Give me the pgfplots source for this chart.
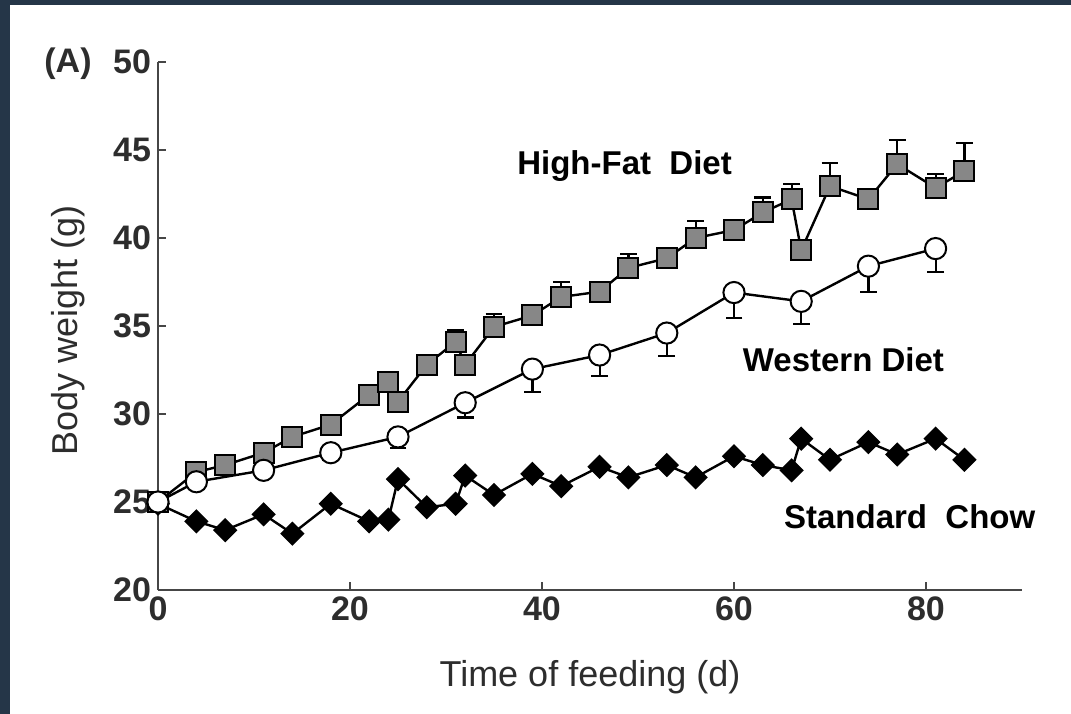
\documentclass[border=0pt]{standalone}
\usepackage{fontspec}
\setmainfont{Liberation Sans}
\usepackage{pgfplots}
\pgfplotsset{compat=1.18}
\usepackage{pgfplotstable}
\definecolor{frame}{RGB}{37,54,72}
\definecolor{sqfill}{RGB}{135,135,135}
\definecolor{txtgray}{RGB}{45,45,45}
\definecolor{axgray}{RGB}{70,70,70}

\pgfplotstableread{
x y
0 24.9
4 23.9
7 23.4
11 24.3
14 23.2
18 24.9
22 23.9
24 24.0
25 26.3
28 24.7
31 24.9
32 26.5
35 25.4
39 26.6
42 25.9
46 27.0
49 26.4
53 27.1
56 26.4
60 27.6
63 27.1
66 26.8
67 28.6
70 27.4
74 28.4
77 27.7
81 28.6
84 27.4
}\chow

\pgfplotstableread{
x y e
0 25.0 0
4 26.7 0
7 27.1 0
11 27.8 0
14 28.7 0
18 29.4 0
22 31.1 0
24 31.8 0.4
25 30.7 0
28 32.8 0
31 34.1 0.65
32 32.8 0
35 34.95 0.75
39 35.6 0
42 36.65 0.85
46 36.95 0.45
49 38.3 0.8
53 38.85 0.3
56 40.0 0.95
60 40.45 0.3
63 41.45 0.85
66 42.2 0.85
67 39.3 0.4
70 42.95 1.3
74 42.2 0.3
77 44.2 1.35
81 42.85 0.8
84 43.8 1.6
}\hfd

\pgfplotstableread{
x y e
0 25.0 0
4 26.15 0
11 26.8 0
18 27.8 0.4
25 28.7 0.65
32 30.64 0.84
39 32.55 1.3
46 33.35 1.2
53 34.6 1.3
60 36.9 1.45
67 36.4 1.3
74 38.4 1.45
81 39.4 1.33
}\western

\begin{document}
\begin{tikzpicture}
\path[use as bounding box] (0,0) rectangle (535.5bp,357bp);
\fill[white] (0,0) rectangle (535.5bp,357bp);
\fill[frame] (0,0) rectangle (5bp,357bp);
\fill[frame] (0,354.5bp) rectangle (535.5bp,357bp);
\begin{axis}[
  at={(79bp,62bp)}, anchor=south west,
  scale only axis, width=432bp, height=264bp,
  xmin=0, xmax=90, ymin=20, ymax=50,
  clip=false,
  axis x line=bottom, axis y line=left,
  axis line style={-, axgray, line width=1.3bp},
  xtick={0,20,40,60,80}, ytick={20,25,...,50},
  tick align=inside, major tick length=4bp,
  tick style={axgray, line width=1bp},
  /pgf/number format/assume math mode=true,
  ticklabel style={font=\bfseries\fontsize{17bp}{20bp}\selectfont, text=txtgray},
  xlabel={Time of feeding (d)},
  ylabel={Body weight (g)},
  label style={font=\fontsize{18bp}{21bp}\selectfont, text=txtgray},
  xlabel style={at={(axis description cs:0.5,-0.165)}, anchor=center},
  ylabel style={at={(axis description cs:-0.104,0.492)}, anchor=center},
  every axis plot/.append style={line width=1.2bp, black},
]
\addplot[mark=square*, mark size=3.9bp, mark options={rotate=45, fill=black, line width=0.8bp}] table[x=x,y=y] {\chow};
\addplot[mark=square*, mark size=5bp, mark options={fill=sqfill, line width=1bp},
  error bars/.cd, y dir=plus, y explicit, error mark=|, error bar style={line width=1.1bp}, error mark options={line width=1.1bp, mark size=4.2bp}]
  table[x=x,y=y,y error=e] {\hfd};
\addplot[mark=*, mark size=5.3bp, mark options={fill=white, line width=1bp},
  error bars/.cd, y dir=minus, y explicit, error mark=|, error bar style={line width=1.1bp}, error mark options={line width=1.1bp, mark size=4.2bp}]
  table[x=x,y=y,y error=e] {\western};
\node[anchor=base, font=\bfseries\fontsize{16.5bp}{20bp}\selectfont] at (axis cs:48.6,43.58) {High-Fat\ \ Diet};
\node[anchor=base, font=\bfseries\fontsize{16.5bp}{20bp}\selectfont] at (axis cs:71.4,32.39) {Western Diet};
\node[anchor=base, font=\bfseries\fontsize{16.5bp}{20bp}\selectfont] at (axis cs:78.3,23.52) {Standard\ \ Chow};
\end{axis}
\node[font=\bfseries\fontsize{17bp}{20bp}\selectfont, text=txtgray] at (34bp,325bp) {(A)};
\end{tikzpicture}
\end{document}
